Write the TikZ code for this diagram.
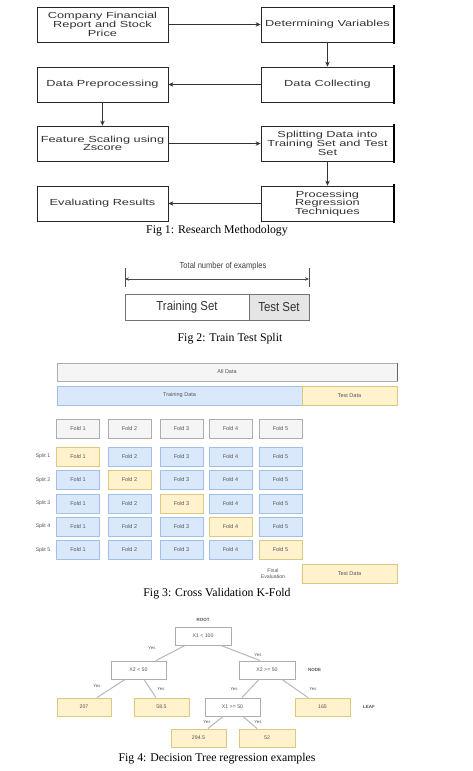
\documentclass[tikz,border=0pt]{standalone}
\usepackage{fontspec}
\setmainfont{Liberation Serif}
\newfontfamily\figonefont[FakeStretch=1.45]{Liberation Sans}
\newfontfamily\figtwofont[FakeStretch=0.88]{Liberation Sans}
\newfontfamily\smallsans{Liberation Sans}
\usetikzlibrary{arrows.meta,calc}
\definecolor{bluefill}{HTML}{DAE8FC}
\definecolor{bluedraw}{HTML}{A3BFE6}
\definecolor{yelfill}{HTML}{FFF2CC}
\definecolor{yeldraw}{HTML}{E0C77F}
\definecolor{grayfill}{HTML}{F5F5F5}
\definecolor{graydraw}{HTML}{ADADAD}
\definecolor{smalltext}{HTML}{555555}
\tikzset{
  onebox/.style={draw=black!85, line width=0.7pt, fill=white, minimum height=35pt, inner sep=1pt,
    align=center, font=\figonefont\fontsize{8.8}{8.7}\selectfont, text=black!80},
  onearrow/.style={draw=black!80, line width=0.7pt, -{Stealth[length=5pt,width=4.5pt]}},
  thickedge/.style={line width=1.8pt, black},
  capt/.style={font=\fontsize{11.8}{12}\selectfont, text=black},
  foldbase/.style={minimum width=43pt, minimum height=19pt, inner sep=0pt, line width=0.9pt,
    font=\smallsans\fontsize{5.5}{6}\selectfont, text=smalltext},
  bfold/.style={foldbase, draw=bluedraw, fill=bluefill},
  yfold/.style={foldbase, draw=yeldraw, fill=yelfill},
  gfold/.style={foldbase, draw=graydraw, fill=grayfill},
  tinytext/.style={font=\smallsans\fontsize{5.2}{6}\selectfont, text=smalltext, inner sep=0pt, align=center},
  treenode/.style={draw=graydraw, line width=0.9pt, fill=white, minimum height=18pt, inner sep=0pt,
    font=\smallsans\fontsize{5.2}{6}\selectfont, text=smalltext},
  treeleaf/.style={draw=yeldraw, line width=0.9pt, fill=yelfill, minimum height=18pt, inner sep=0pt,
    font=\smallsans\fontsize{5.2}{6}\selectfont, text=smalltext},
  treeedge/.style={draw=black!28, line width=1pt},
  yeslbl/.style={font=\smallsans\fontsize{4.3}{5}\selectfont, text=smalltext, inner sep=0pt},
}
\begin{document}
\begin{tikzpicture}[x=1pt,y=-1pt]
\useasboundingbox[fill=white] (0,0) rectangle (473,771);

% ---------- Fig 1 ----------
\node[onebox, minimum width=131pt] (a) at (102.5,24.5) {Company Financial\\Report and Stock\\Price};
\node[onebox, minimum width=133pt] (b) at (327.5,24.5) {Determining Variables};
\node[onebox, minimum width=131pt] (pre) at (102.5,84.5) {Data Preprocessing};
\node[onebox, minimum width=133pt] (col) at (327.5,84.5) {Data Collecting};
\node[onebox, minimum width=131pt] (fs) at (102.5,143.5) {Feature Scaling using\\Zscore};
\node[onebox, minimum width=133pt] (spl) at (327.5,143.5) {Splitting Data into\\Training Set and Test\\Set};
\node[onebox, minimum width=131pt] (ev) at (102.5,203.5) {Evaluating Results};
\node[onebox, minimum width=133pt] (proc) at (327.5,203.5) {Processing\\Regression\\Techniques};
\foreach \n in {b,col,spl,proc}{
  \draw[thickedge] ([yshift=1.5pt]\n.north east) -- ([yshift=-1.5pt]\n.south east);
}
\draw[onearrow] (a) -- (b);
\draw[onearrow] (b) -- (col);
\draw[onearrow] (col) -- (pre);
\draw[onearrow] (pre) -- (fs);
\draw[onearrow] (fs) -- (spl);
\draw[onearrow] (spl) -- (proc);
\draw[onearrow] (proc) -- (ev);
\node[capt] (c1) at (217,231) {Fig 1: Research Methodology};

% ---------- Fig 2 ----------
\node[draw=black!55, line width=0.9pt, fill=white, minimum width=124pt, minimum height=26pt, inner sep=0pt,
  font=\figtwofont\fontsize{13}{13}\selectfont, text=black!80] (train) at (187,307) {Training Set};
\node[draw=black!55, line width=0.9pt, fill=black!10, minimum width=60pt, minimum height=26pt, inner sep=0pt,
  font=\figtwofont\fontsize{13}{13}\selectfont, text=black!80] (test) at (279,307) {Test Set};
\coordinate (tl) at (125,279);
\coordinate (tr) at (309,279);
\coordinate (tlt) at (125,268);
\coordinate (tlb) at (125,287);
\coordinate (trt) at (309,268);
\coordinate (trb) at (309,287);
\draw[black!70, line width=0.7pt] (tlt) -- (tlb);
\draw[black!70, line width=0.7pt] (trt) -- (trb);
\draw[black!70, line width=0.9pt, {Stealth[length=4pt,width=3.5pt]}-{Stealth[length=4pt,width=3.5pt]}] (tl) -- (tr);
\node[font=\figtwofont\fontsize{8.6}{9}\selectfont, text=black!75, inner sep=0pt] (tot) at (223,266) {Total number of examples};
\node[capt] (c2) at (230,339) {Fig 2: Train Test Split};

% ---------- Fig 3 ----------
\node[draw=graydraw, fill=grayfill, line width=0.8pt, minimum width=340pt, minimum height=18pt, inner sep=0pt,
  font=\smallsans\fontsize{5.5}{6}\selectfont, text=smalltext] (all) at (227,372) {All Data};
\draw[line width=1.2pt, black!60] (all.north east) -- (all.south east);
\node[bfold, minimum width=245pt] (trd) at (179.5,395.5) {Training Data};
\node[yfold, minimum width=95pt] (ted) at (349.5,395.5) {Test Data};

\foreach \c [count=\i] in {78,129.5,181.5,230.5,280.5}{
  \node[gfold] (h\i) at (\c,428.5) {Fold \i};
}
\foreach \r/\yy in {1/456.5,2/480,3/503.5,4/526.5,5/550}{
  \node[tinytext] (s\r) at (43,\yy) {Split \r};
  \foreach \c [count=\i] in {78,129.5,181.5,230.5,280.5}{
    \ifnum\i=\r
      \node[yfold] (f\r\i) at (\c,\yy) {Fold \i};
    \else
      \node[bfold] (f\r\i) at (\c,\yy) {Fold \i};
    \fi
  }
}
\node[tinytext] (fe) at (273,574) {Final\\Evaluation};
\node[yfold, minimum width=95pt] (ftd) at (349.5,573.5) {Test Data};
\node[capt] (c3) at (217,594) {Fig 3: Cross Validation K-Fold};

% ---------- Fig 4 ----------
\node[tinytext, font=\smallsans\bfseries\fontsize{4.5}{5}\selectfont] (rootlbl) at (203,620) {ROOT};
\node[treenode, minimum width=56pt] (root) at (203,636) {X1 < 100};
\node[treenode, minimum width=55pt] (n1) at (138.5,670) {X2 < 50};
\node[treenode, minimum width=56pt] (n2) at (267,670) {X2 >= 50};
\node[tinytext, font=\smallsans\bfseries\fontsize{4.5}{5}\selectfont, anchor=west] (nodelbl) at (308,670) {NODE};
\node[treeleaf, minimum width=54pt] (l1) at (84,707) {207};
\node[treeleaf, minimum width=55pt] (l2) at (161.5,707) {58.5};
\node[treenode, minimum width=55pt] (n3) at (232.5,707) {X1 >= 50};
\node[treeleaf, minimum width=55pt] (l3) at (322.5,707) {165};
\node[tinytext, font=\smallsans\bfseries\fontsize{4.5}{5}\selectfont, anchor=west] (leaflbl) at (363,707) {LEAF};
\node[treeleaf, minimum width=55pt] (l4) at (198.5,738) {294.5};
\node[treeleaf, minimum width=56pt] (l5) at (267,738) {52};

\draw[treeedge] ([xshift=-18pt]root.south) -- ([xshift=17.5pt]n1.north);
\draw[treeedge] ([xshift=18pt]root.south) -- ([xshift=-7pt]n2.north);
\draw[treeedge] ([xshift=-13.5pt]n1.south) -- ([xshift=13pt]l1.north);
\draw[treeedge] ([xshift=5.5pt]n1.south) -- ([xshift=-5.5pt]l2.north);
\draw[treeedge] ([xshift=-8pt]n2.south) -- ([xshift=9.5pt]n3.north);
\draw[treeedge] ([xshift=15pt]n2.south) -- ([xshift=-14.5pt]l3.north);
\draw[treeedge] ([xshift=-9.5pt]n3.south) -- ([xshift=9.5pt]l4.north);
\draw[treeedge] ([xshift=10.5pt]n3.south) -- ([xshift=-10pt]l5.north);

\node[yeslbl] (y1) at (152,648) {Yes};
\node[yeslbl] (y2) at (258,655) {Yes};
\node[yeslbl] (y3) at (97,686) {Yes};
\node[yeslbl] (y4) at (161,689) {Yes};
\node[yeslbl] (y5) at (234,689) {Yes};
\node[yeslbl] (y6) at (313,689) {Yes};
\node[yeslbl] (y7) at (207,722) {Yes};
\node[yeslbl] (y8) at (258,722) {Yes};
\node[capt] (c4) at (217,759) {Fig 4: Decision Tree regression examples};
\end{tikzpicture}
\end{document}
